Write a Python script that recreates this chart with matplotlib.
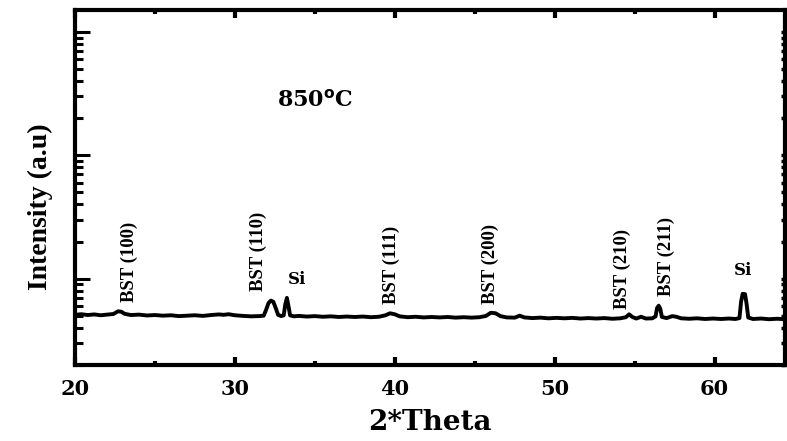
import matplotlib
matplotlib.use("Agg")
import matplotlib.pyplot as plt
from matplotlib.ticker import LogLocator, NullFormatter, MultipleLocator

# XRD pattern (2theta in degrees, intensity in a.u.)
theta = [20.0, 20.4, 20.8, 21.2, 21.6, 22.0, 22.4, 22.7, 22.9, 23.1,
         23.5, 24.0, 24.5, 25.0, 25.5, 26.0, 26.5, 27.0, 27.5, 28.0,
         28.5, 29.0, 29.3, 29.6, 30.0, 30.5, 31.0, 31.5, 31.8, 31.95,
         32.1, 32.25, 32.4, 32.55, 32.7, 32.9, 33.05, 33.15, 33.25, 33.35,
         33.45, 33.7, 34.0, 34.5, 35.0, 35.5, 36.0, 36.5, 37.0, 37.5,
         38.0, 38.5, 39.0, 39.4, 39.7, 40.0, 40.3, 40.8, 41.3, 41.8,
         42.3, 42.8, 43.3, 43.8, 44.3, 44.8, 45.3, 45.7, 46.0, 46.3,
         46.6, 47.0, 47.5, 47.8, 48.1, 48.6, 49.1, 49.6, 50.1, 50.6,
         51.1, 51.6, 52.1, 52.6, 53.1, 53.6, 54.1, 54.45, 54.65, 54.85,
         55.1, 55.4, 55.7, 56.1, 56.3, 56.4, 56.5, 56.6, 56.7, 57.0,
         57.35, 57.6, 57.9, 58.4, 58.9, 59.4, 59.9, 60.4, 60.9, 61.3,
         61.55, 61.65, 61.75, 61.9, 62.0, 62.1, 62.4, 62.9, 63.4, 63.9,
         64.4]
intensity = [51.0, 51.6, 50.8, 51.4, 50.6, 51.2, 51.8, 54.5, 54.0, 52.0,
             50.8, 51.2, 50.4, 50.8, 50.2, 50.6, 49.8, 50.2, 50.6, 50.0,
             50.8, 51.4, 51.0, 51.6, 50.6, 50.0, 49.6, 49.8, 50.2, 56.0,
             63.5, 66.5, 65.0, 58.0, 51.0, 49.8, 50.5, 62.0, 70.0, 60.0,
             50.5, 49.6, 50.0, 49.4, 49.8, 49.2, 49.6, 49.0, 49.4, 49.0,
             49.4, 48.8, 49.2, 50.5, 52.5, 51.5, 49.6, 48.8, 49.2, 48.6,
             49.0, 48.6, 49.0, 48.4, 48.8, 48.4, 48.8, 50.0, 53.0, 52.5,
             49.8, 48.6, 48.4, 50.2, 48.6, 48.0, 48.4, 47.8, 48.2, 47.8,
             48.2, 47.6, 48.0, 47.6, 48.0, 47.4, 47.8, 48.8, 51.5, 49.0,
             47.6, 49.2, 47.6, 47.8, 49.5, 58.0, 60.5, 57.0, 49.0, 48.0,
             49.8, 49.2, 47.8, 47.4, 47.8, 47.2, 47.6, 47.2, 47.6, 47.2,
             48.0, 65.0, 75.5, 75.0, 62.0, 48.5, 47.2, 47.6, 47.0, 47.4,
             47.0]

# peak labels: text, 2theta, intensity where the label starts
bst_labels = ["BST (100)", "BST (110)", "BST (111)", "BST (200)", "BST (210)", "BST (211)"]
bst_x = [23.4, 31.45, 39.8, 46.0, 54.2, 57.0]
bst_y = [65, 80, 63, 63, 57, 73]
si_x = [33.9, 61.75]
si_y = [98, 116]

fig = plt.figure(figsize=(7.87, 4.41), dpi=100)
ax = fig.add_axes([0.0953, 0.1723, 0.9022, 0.8047])

ax.plot(theta, intensity, color="black", lw=2.8)
ax.set_yscale("log")
ax.set_xlim(20, 64.4)
ax.set_ylim(20, 15000)

for s in ax.spines.values():
    s.set_linewidth(3)

ax.xaxis.set_major_locator(MultipleLocator(10))
ax.xaxis.set_minor_locator(MultipleLocator(5))
ax.yaxis.set_major_locator(LogLocator(base=10))
ax.yaxis.set_minor_locator(LogLocator(base=10, subs=range(2, 10)))
ax.yaxis.set_major_formatter(NullFormatter())
ax.yaxis.set_minor_formatter(NullFormatter())

ax.tick_params(axis="x", which="major", direction="in", length=6, width=3,
               top=True, bottom=True, pad=10)
ax.tick_params(axis="x", which="minor", direction="in", length=3, width=3,
               top=True, bottom=True)
ax.tick_params(axis="y", which="major", direction="in", length=11, width=2.2)
ax.tick_params(axis="y", which="minor", direction="in", length=6, width=2.2)

# short dotted ticks on the right side
sec = ax.secondary_yaxis("right")
sec.yaxis.set_major_locator(LogLocator(base=10))
sec.yaxis.set_minor_locator(LogLocator(base=10, subs=range(2, 10)))
sec.yaxis.set_major_formatter(NullFormatter())
sec.yaxis.set_minor_formatter(NullFormatter())
sec.tick_params(which="both", direction="in", length=3, width=2.5)
sec.spines["right"].set_linewidth(0)

for lab in ax.get_xticklabels():
    lab.set_family("DejaVu Serif")
    lab.set_weight("bold")
    lab.set_fontsize(15)

ax.set_xlabel("2*Theta", family="DejaVu Serif", weight="bold", fontsize=20)
ax.xaxis.set_label_coords(0.5, -0.125)
ax.set_ylabel("Intensity (a.u)", family="Liberation Serif", weight="bold", fontsize=20)
ax.yaxis.set_label_coords(-0.031, 0.445)

ax.text(0.338, 0.746, "850$^{\\mathbf{o}}$C", transform=ax.transAxes,
        family="DejaVu Serif", weight="bold", fontsize=16, ha="center", va="center")

for t, x, y in zip(bst_labels, bst_x, bst_y):
    ax.text(x, y, t, rotation=90, ha="center", va="bottom",
            family="Liberation Serif", weight="bold", fontsize=13.5)
for x, y in zip(si_x, si_y):
    ax.text(x, y, "Si", ha="center", va="center",
            family="DejaVu Serif", weight="bold", fontsize=12)

fig.savefig("out.png", dpi=100)
